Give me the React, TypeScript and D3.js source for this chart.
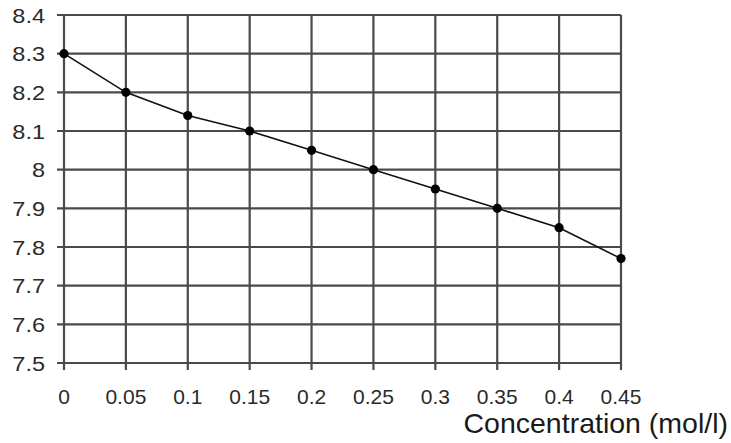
import React from 'react';
import * as d3 from 'd3';

const concentration = [0, 0.05, 0.1, 0.15, 0.2, 0.25, 0.3, 0.35, 0.4, 0.45];
const values = [8.3, 8.2, 8.14, 8.1, 8.05, 8.0, 7.95, 7.9, 7.85, 7.77];
const xTicks = [0, 0.05, 0.1, 0.15, 0.2, 0.25, 0.3, 0.35, 0.4, 0.45];
const yTicks = [7.5, 7.6, 7.7, 7.8, 7.9, 8, 8.1, 8.2, 8.3, 8.4];
const xTitle = 'Concentration (mol/l)';

const App = () => {
  const width = 731;
  const height = 443;
  const margin = { top: 15, right: 110, bottom: 80, left: 64 };

  const x = d3.scaleLinear().domain([0, 0.45]).range([margin.left, width - margin.right]);
  const y = d3.scaleLinear().domain([7.5, 8.4]).range([height - margin.bottom, margin.top]);

  const line = d3.line<number>()
    .x((d, i) => x(concentration[i]))
    .y(d => y(d));

  const font = 'Arial, "Liberation Sans", sans-serif';
  const gridColor = '#4a4a4a';

  return (
    <svg width={width} height={height} style={{ position: 'absolute', left: 0, top: 0, background: '#fff' }}>
      <g>
        {yTicks.map(t => (
          <line key={'h' + t} x1={x(0) - 7} x2={x(0.45)} y1={y(t)} y2={y(t)} stroke={gridColor} strokeWidth={2.2} />
        ))}
        {xTicks.map(t => (
          <line key={'v' + t} x1={x(t)} x2={x(t)} y1={y(8.4)} y2={y(7.5) + 7} stroke={gridColor} strokeWidth={2.2} />
        ))}
      </g>
      <g fontFamily={font} fontSize={21} fill="#2a2a2a">
        {yTicks.map(t => (
          <text key={'yl' + t} x={45} y={y(t)} dy="0.36em" textAnchor="end" transform={`translate(45,0) scale(1.12,1) translate(-45,0)`}>{t}</text>
        ))}
        {xTicks.map(t => (
          <text key={'xl' + t} x={x(t)} y={404} textAnchor="middle">{t}</text>
        ))}
      </g>
      <path d={line(values) || ''} fill="none" stroke="#111" strokeWidth={1.6} />
      {values.map((v, i) => (
        <circle key={i} cx={x(concentration[i])} cy={y(v)} r={4.6} fill="#000" />
      ))}
      <text x={728} y={433} textAnchor="end" fontFamily={font} fontSize={28.5} fill="#1a1a1a">{xTitle}</text>
    </svg>
  );
};

export default App;
